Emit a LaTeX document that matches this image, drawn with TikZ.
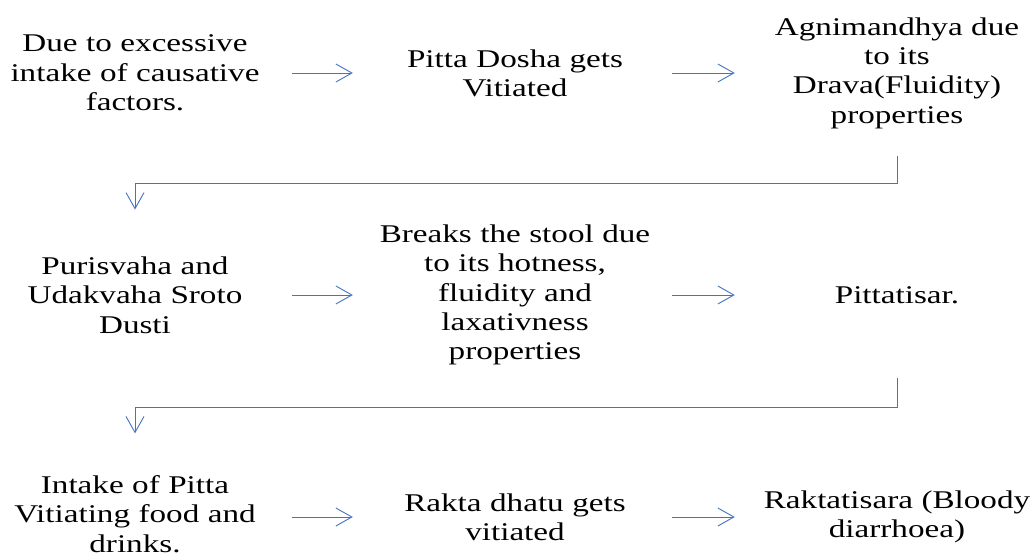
\documentclass[tikz,border=0pt]{standalone}
\usepackage{fontspec}
\setmainfont{Liberation Serif}[FakeStretch=1.3]
\usetikzlibrary{arrows.meta}
\definecolor{flowblue}{RGB}{68,114,196}

\begin{document}
\begin{tikzpicture}[x=1pt, y=1pt,
    stage/.style={text width=290pt, align=center, inner sep=0pt,
        font=\fontsize{25.5}{29.3}\selectfont},
    flow/.style={flowblue, line width=0.9pt, -{Straight Barb[length=16pt, width=18pt]}},
    link/.style={flow, shorten <=12pt, shorten >=17pt}]
    \useasboundingbox (0,0) rectangle (1034,-556);

    % First row
    \node[stage] (excess) at (135,-73) {Due to excessive\\ intake of causative\\ factors.};
    \node[stage] (vitiated) at (515,-73) {Pitta Dosha gets\\ Vitiated};
    \node[stage] (agni) at (897,-73) {Agnimandhya due\\ to its\\ Drava(Fluidity)\\ properties};
    \draw[link] (excess) -- (vitiated);
    \draw[link] (vitiated) -- (agni);

    % Second row
    \node[stage] (srotas) at (135,-295) {Purisvaha and\\ Udakvaha Sroto\\ Dusti};
    \node[stage] (stool) at (515,-295) {Breaks the stool due\\ to its hotness,\\ fluidity and\\ laxativness\\ properties};
    \node[stage] (pittatisar) at (897,-295) {Pittatisar.};
    \draw[link] (srotas) -- (stool);
    \draw[link] (stool) -- (pittatisar);

    % Third row
    \node[stage] (intake) at (135,-514) {Intake of Pitta\\ Vitiating food and\\ drinks.};
    \node[stage] (rakta) at (515,-517) {Rakta dhatu gets\\ vitiated};
    \node[stage] (bloody) at (897,-517) {Raktatisara (Bloody\\ diarrhoea)};
    \draw[link] ([yshift=-3pt]intake.east) -- (rakta.west);
    \draw[link] (rakta) -- (bloody);

    % Row to row
    \coordinate (turnA) at (0,-183);
    \coordinate (turnB) at (0,-407);
    \draw[flow, shorten <=27pt, shorten >=47pt] (agni.south) |- (turnA -| srotas.north) -- (srotas.north);
    \draw[flow, shorten <=74pt, shorten >=42pt] (pittatisar.south) |- (turnB -| intake.north) -- (intake.north);
\end{tikzpicture}
\end{document}
